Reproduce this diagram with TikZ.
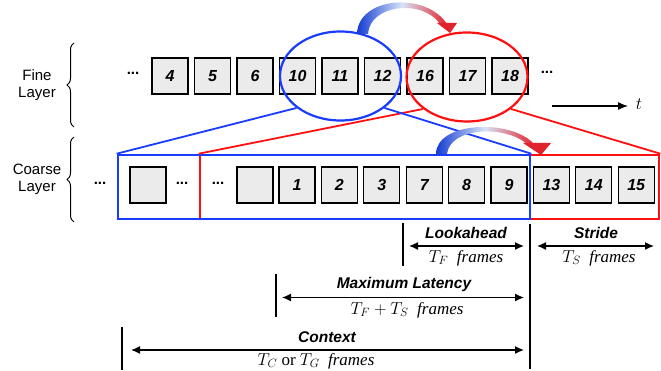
\documentclass[tikz,border=0pt]{standalone}
\usepackage{fontspec}
\setmainfont{Liberation Sans}
\newfontfamily\timesfont{Liberation Serif}
\usetikzlibrary{shapes.geometric, arrows, arrows.meta, positioning, calc, decorations.pathreplacing}

\definecolor{winblue}{RGB}{25,60,255}
\definecolor{winred}{RGB}{255,15,15}
\definecolor{arcblue}{RGB}{20,60,210}
\definecolor{arcred}{RGB}{225,35,45}
\definecolor{arcmid}{RGB}{215,228,248}

\tikzset{
  slot/.style={rectangle, draw, line width=1.1pt, fill=black!8, minimum size=36pt, inner sep=0pt,
    font=\fontsize{16}{16}\selectfont\bfseries\itshape},
  win/.style={rectangle, line width=2.6pt, minimum height=64pt, inner sep=0pt},
  ring/.style={ellipse, line width=2.2pt, minimum width=121pt, minimum height=89pt, inner sep=0pt},
  dots/.style={font=\fontsize{15}{15}\selectfont\bfseries},
  layer/.style={align=center, font=\fontsize{15}{17}\selectfont},
  head/.style={font=\fontsize{15.5}{16}\selectfont\bfseries\itshape},
  sub/.style={font=\fontsize{17}{17}\selectfont\timesfont},
  tick/.style={line width=1.3pt},
  span/.style={{Latex[length=9pt,width=8pt]}-{Latex[length=9pt,width=8pt]}, line width=1.3pt}
}

\begin{document}
\begin{tikzpicture}[x=1pt, y=-1pt]
\useasboundingbox (0,0) rectangle (661,371);

%fine layer
\foreach \n [count=\i] in {4,5,6,10,11,12,16,17,18}
  \node[slot] (f\n) at ({170+42.5*(\i-1)},76) {\n};
\node[dots] (fdotsL) at (133,73) {...};
\node[dots] (fdotsR) at (547,72) {...};
\node[ring, draw=winblue] (blueRing) at (340.5,76) {};
\node[ring, draw=winred] (redRing) at (467,77) {};

%time axis
\coordinate (tA) at (552,106);
\coordinate (tB) at (628,106);
\node[font=\fontsize{19}{19}\selectfont] (tlab) at (639,104) {$t$};
\draw[-{Latex[length=10pt,width=8pt]}, line width=1.3pt] (tA) -- (tB);

%coarse layer
\node[win, draw=winred] (redWin) at (429.5,187) [minimum width=459pt] {};
\node[win, draw=winblue] (blueWin) at (324,187) [minimum width=412pt] {};
\node[slot] (c0) at (148,185) {};
\node[slot] (ce) at (255,185) {};
\foreach \n [count=\i] in {1,2,3,7,8,9,13,14,15}
  \node[slot] (c\n) at ({297+42.4*(\i-1)},185) {\n};
\node[dots] (cdotsA) at (100,183) {...};
\node[dots] (cdotsB) at (182,183) {...};
\node[dots] (cdotsC) at (218,183) {...};

%zoom lines
\draw[winred, line width=1.8pt] (redRing.216) -- (redWin.north west);
\draw[winred, line width=1.8pt] (redRing.324) -- (redWin.north east);
\draw[winblue, line width=1.8pt] (blueRing.216) -- (blueWin.north west);
\draw[winblue, line width=1.8pt] (blueRing.324) -- (blueWin.north east);

%shift arrows
\shade[left color=arcblue, right color=arcred, middle color=arcmid]
  (357,34) .. controls (358,-3) and (425,-9) .. (447,24) -- (440,24)
  .. controls (423,-1) and (370,4) .. (368,34) -- cycle;
\fill[arcred] (437,23) -- (457,23) -- (450,33) -- cycle;
\shade[left color=arcblue, right color=arcred, middle color=arcmid]
  (436,154) .. controls (436,122) and (510,118) .. (534,144) -- (527,144)
  .. controls (505,125) and (450,127) .. (447,154) -- cycle;
\fill[arcred] (523,143) -- (551,143) -- (541,155) -- cycle;

%braces and layer names
\draw[decorate, decoration={brace, amplitude=7pt}, line width=1pt] (74,127) -- (74,43);
\draw[decorate, decoration={brace, amplitude=7pt}, line width=1pt] (74,222) -- (74,137);
\node[layer] (fineLab) at (37,85) {Fine\\Layer};
\node[layer] (coarseLab) at (37,179) {Coarse\\Layer};

%measures
\coordinate (nowT) at (530,224);
\coordinate (nowB) at (530,369);
\coordinate (lookT) at (403,223);
\coordinate (lookB) at (403,266);
\coordinate (maxT) at (276,274);
\coordinate (maxB) at (276,317);
\coordinate (ctxT) at (122,327);
\coordinate (ctxB) at (122,370);
\draw[tick] (nowT) -- (nowB);
\draw[tick] (lookT) -- (lookB);
\draw[tick] (maxT) -- (maxB);
\draw[tick] (ctxT) -- (ctxB);

\coordinate (lkL) at (409,246);
\coordinate (lkR) at (524,246);
\coordinate (stL) at (537,246);
\coordinate (stR) at (654,246);
\coordinate (mxL) at (282,297.5);
\coordinate (mxR) at (524,297.5);
\coordinate (cxL) at (131,350);
\coordinate (cxR) at (524,350);
\draw[span] (lkL) -- (lkR);
\draw[span] (stL) -- (stR);
\draw[span] (mxL) -- (mxR);
\draw[span] (cxL) -- (cxR);

\node[head] (lkHead) at (466,233) {Lookahead};
\node[sub] (lkSub) at (466,258) {$T_F$~~\textit{frames}};
\node[head] (stHead) at (596,233) {Stride};
\node[sub] (stSub) at (599,258) {$T_S$~~\textit{frames}};
\node[head] (mxHead) at (404,284) {Maximum Latency};
\node[sub] (mxSub) at (407,310) {$T_F+T_S$~~\textit{frames}};
\node[head] (cxHead) at (327,337) {Context};
\node[sub] (cxSub) at (316,361) {$T_C$ or $T_G$~~\textit{frames}};
\end{tikzpicture}
\end{document}
